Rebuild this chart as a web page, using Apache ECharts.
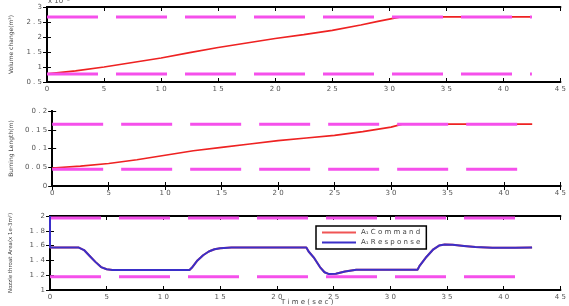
<!DOCTYPE html>
<html>
<head>
<meta charset="utf-8">
<script src="https://cdn.jsdelivr.net/npm/echarts@6/dist/echarts.min.js"></script>
<style>
  html, body { margin: 0; padding: 0; background: #fff; }
  #main { width: 569px; height: 306px; }
</style>
</head>
<body>
<div id="main"></div>
<script>
// 时间轴 (sec)
const xTicks = [0, 5, 10, 15, 20, 25, 30, 35, 40, 45];

// 子图1: Volume change (x 1e-3 m^3)
const volTime = [0, 2.5, 5, 7.5, 10, 12.5, 15, 17.5, 20, 22.5, 25, 27.5, 29, 31, 42.5];
const volValue = [0.77, 0.87, 1.0, 1.15, 1.3, 1.48, 1.65, 1.8, 1.95, 2.08, 2.22, 2.4, 2.52, 2.67, 2.67];
const volLimits = [2.67, 0.77];

// 子图2: Burning Length (m)
const lenTime = [0, 2.5, 5, 7.5, 10, 12.5, 15, 17.5, 20, 22.5, 25, 27.5, 30, 31, 42.5];
const lenValue = [0.048, 0.053, 0.06, 0.07, 0.082, 0.094, 0.103, 0.112, 0.121, 0.128, 0.135, 0.145, 0.157, 0.165, 0.165];
const lenLimits = [0.165, 0.045];

// 子图3: Nozzle throat Area
const areaTime = [0, 0, 2.5, 3, 3.5, 4, 4.5, 5, 5.5, 12.3, 12.5, 13, 13.5, 14, 14.5, 15, 16, 22.6, 22.8, 23.3, 23.8, 24.2, 24.6, 25.2, 26, 27, 32.4, 32.6, 33.2, 33.8, 34.3, 34.8, 35.5, 36.5, 37.5, 39, 41, 42.5];
const areaResponse = [2.0, 1.575, 1.575, 1.54, 1.46, 1.38, 1.31, 1.28, 1.27, 1.27, 1.3, 1.4, 1.47, 1.52, 1.55, 1.565, 1.575, 1.575, 1.52, 1.43, 1.31, 1.24, 1.215, 1.22, 1.25, 1.275, 1.275, 1.33, 1.45, 1.55, 1.6, 1.615, 1.61, 1.595, 1.58, 1.57, 1.57, 1.575];
const areaCommand = areaResponse.slice();
const areaLimits = [1.973, 1.18];
const limitEnd = 42.5;

const pairs = (xs, ys) => xs.map((x, i) => [x, ys[i]]);
const limitLine = (v) => [[0, v], [limitEnd, v]];

const spaced = (v) => String(v).split("").join(" ");
const tickFont = { fontSize: 7, color: "#555", fontFamily: "DejaVu Sans" };
const lineStyleAxis = { color: "#000", width: 2 };

const grids = [
  { left: 45, right: 7, top: 7, height: 75 },
  { left: 45, right: 7, top: 111, height: 75 },
  { left: 45, right: 7, top: 216, height: 74 },
];

const xAxis = [];
const yAxis = [];
const yConf = [
  { min: 0.5, max: 3, interval: 0.5, name: "Volume change(m³)", gap: 33, size: 6 },
  { min: 0, max: 0.2, interval: 0.05, name: "Burning Length(m)", gap: 36, size: 6 },
  { min: 1, max: 2, interval: 0.2, name: "Nozzle throat Area(x 1e-3m²)", gap: 36, size: 5.5 },
];
grids.forEach((g, i) => {
  xAxis.push({
    gridIndex: i, type: "value", min: 0, max: 45, interval: 5, position: "bottom",
    axisLine: { lineStyle: lineStyleAxis },
    axisTick: { inside: true, length: 4, lineStyle: { color: "#000" } },
    axisLabel: { ...tickFont, margin: 4, formatter: spaced },
    splitLine: { show: false },
  });
  xAxis.push({
    gridIndex: i, type: "value", min: 0, max: 45, interval: 5, position: "top",
    axisLine: { lineStyle: lineStyleAxis },
    axisTick: { inside: true, length: 4, lineStyle: { color: "#000" } },
    axisLabel: { show: false },
    splitLine: { show: false },
  });
  const c = yConf[i];
  yAxis.push({
    gridIndex: i, type: "value", min: c.min, max: c.max, interval: c.interval, position: "left",
    name: c.name, nameLocation: "middle", nameRotate: 90, nameGap: c.gap,
    nameTextStyle: { fontSize: c.size, color: "#444", fontFamily: "DejaVu Sans" },
    axisLine: { show: true, lineStyle: lineStyleAxis },
    axisTick: { show: true, inside: true, length: 4, lineStyle: { color: "#000" } },
    axisLabel: { ...tickFont, margin: 5, formatter: (v) => spaced(+v.toFixed(2)) },
    splitLine: { show: false },
  });
  yAxis.push({
    gridIndex: i, type: "value", min: c.min, max: c.max, interval: c.interval, position: "right",
    axisLine: { show: true, lineStyle: lineStyleAxis },
    axisTick: { show: true, inside: true, length: 4, lineStyle: { color: "#000" } },
    axisLabel: { show: false },
    splitLine: { show: false },
  });
});

const magenta = "#f550eb";
const dashSeries = (gi, v) => ({
  type: "line", xAxisIndex: gi * 2, yAxisIndex: gi * 2, data: limitLine(v),
  symbol: "none", silent: true, z: 4,
  lineStyle: { color: magenta, width: 3, type: [51, 18] },
});
const dataLine = (gi, name, data, color, z, width) => ({
  name, type: "line", xAxisIndex: gi * 2, yAxisIndex: gi * 2, data,
  symbol: "none", z, color,
  itemStyle: { color },
  lineStyle: { color, width: width || 1.6 },
});

const series = [
  dataLine(0, "volume", pairs(volTime, volValue), "#ee2222", 3),
  dashSeries(0, volLimits[0]),
  dashSeries(0, volLimits[1]),
  dataLine(1, "length", pairs(lenTime, lenValue), "#ee2222", 3),
  dashSeries(1, lenLimits[0]),
  dashSeries(1, lenLimits[1]),
  dashSeries(2, areaLimits[0]),
  dashSeries(2, areaLimits[1]),
  dataLine(2, "A₁ Command", pairs(areaTime, areaCommand), "#f05555", 5, 2),
  dataLine(2, "A₁ Response", pairs(areaTime, areaResponse), "#3a2fc8", 6, 2),
];

const option = {
  animation: false,
  backgroundColor: "#fff",
  grid: grids,
  xAxis,
  yAxis,
  series,
  legend: {
    data: ["A₁ Command", "A₁ Response"],
    left: 316, top: 226,
    orient: "vertical",
    backgroundColor: "#fff",
    borderColor: "#000", borderWidth: 1.5, borderRadius: 0,
    padding: [3, 6], itemGap: 3,
    itemWidth: 34, itemHeight: 2, icon: "rect",
    textStyle: { fontSize: 7, color: "#444", fontFamily: "DejaVu Sans" },
    formatter: (n) => n.replace("Command", "C o m m a n d").replace("Response", "R e s p o n s e"),
  },
  graphic: [
    { type: "text", left: 48, top: -2, style: { text: "x 10⁻³", fontSize: 7, fill: "#555", fontFamily: "DejaVu Sans" } },
    { type: "text", left: 281, top: 299, style: { text: "T i m e ( s e c )", fontSize: 7, fill: "#444", fontFamily: "DejaVu Sans" } },
  ],
};

const chart = echarts.init(document.getElementById("main"));
chart.setOption(option);
</script>
</body>
</html>
